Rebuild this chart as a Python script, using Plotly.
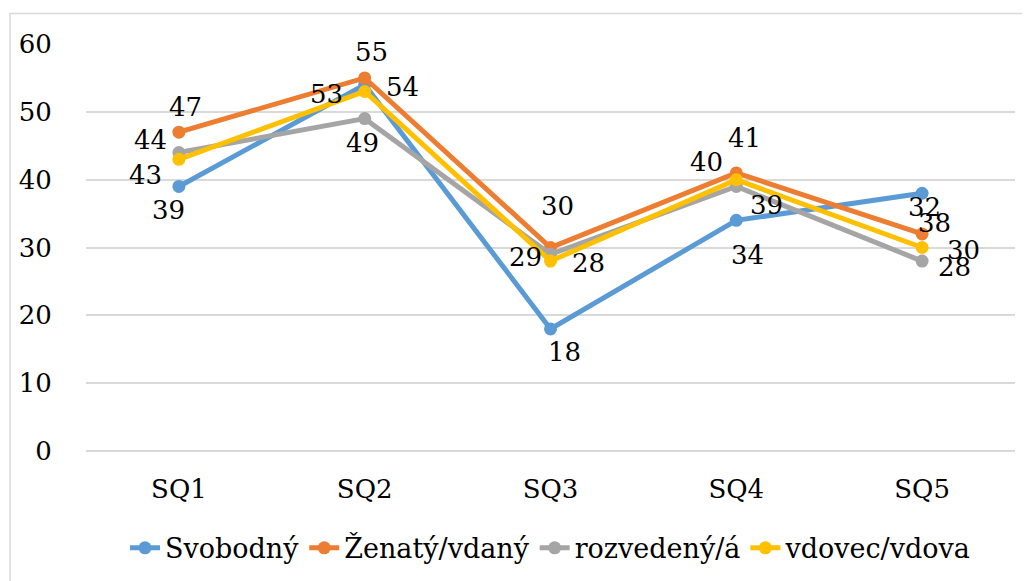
import plotly.graph_objects as go

categories = ["SQ1", "SQ2", "SQ3", "SQ4", "SQ5"]
series_names = ["Svobodný", "Ženatý/vdaný", "rozvedený/á", "vdovec/vdova"]
svobodny = [39, 54, 18, 34, 38]
zenaty = [47, 55, 30, 41, 32]
rozvedeny = [44, 49, 29, 39, 28]
vdovec = [43, 53, 28, 40, 30]
y_ticks = [0, 10, 20, 30, 40, 50, 60]

colors = ["#5B9BD5", "#ED7D31", "#A5A5A5", "#FFC000"]
series_values = [svobodny, zenaty, rozvedeny, vdovec]

# label offsets in pixels (dx, dy downward) per series per category
label_offsets = [
    [(-10, 24), (38, 2), (14, 23), (11, 35), (12, 30)],
    [(7, -25), (7, -26), (7, -42), (8, -35), (2, -27)],
    [(-28, -13), (-2, 24), (-25, 3), (30, 19), (32, 6)],
    [(-33, 16), (-38, 3), (38, 2), (-30, -18), (41, 2)],
]

FONT = "DejaVu Serif"
FS = 26
LEG_FS = 27

fig = go.Figure()
for name, vals, col in zip(series_names, series_values, colors):
    fig.add_trace(go.Scatter(
        x=categories, y=vals, name=name, mode="lines+markers",
        line=dict(color=col, width=5),
        marker=dict(color=col, size=13),
    ))

annotations = []
for vals, offs in zip(series_values, label_offsets):
    for c, v, (dx, dy) in zip(categories, vals, offs):
        annotations.append(dict(
            x=c, y=v, text=str(v), showarrow=False,
            xshift=dx, yshift=-dy, xanchor="center", yanchor="middle",
            font=dict(family=FONT, size=FS, color="black"),
        ))

fig.update_layout(
    width=1030, height=581,
    margin=dict(l=78, r=23, t=35.5, b=137.5, autoexpand=False),
    paper_bgcolor="white", plot_bgcolor="white",
    font=dict(family=FONT, size=FS, color="black"),
    showlegend=True,
    legend=dict(orientation="h", x=0.5, xanchor="center", y=-0.239, yanchor="middle",
                font=dict(family=FONT, size=LEG_FS, color="black"), itemwidth=30,
                tracegroupgap=0),
    annotations=annotations,
    shapes=[dict(type="rect", xref="paper", yref="paper",
                 x0=-0.0818, x1=1.05, y0=-0.5, y1=1.0748,
                 line=dict(color="#D9D9D9", width=1.5), fillcolor="rgba(0,0,0,0)")],
)
fig.update_xaxes(
    type="category", range=[-0.5, 4.5], showgrid=False, showline=False,
    zeroline=False, ticks="outside", ticklen=0, ticklabelstandoff=15, automargin=False,
    tickfont=dict(family=FONT, size=FS, color="black"),
)
fig.update_yaxes(
    range=[0, 60], tickvals=y_ticks, showgrid=True, gridcolor="#D9D9D9", gridwidth=1.5,
    zeroline=True, zerolinecolor="#D9D9D9", zerolinewidth=1.5,
    showline=False, ticks="outside", ticklen=0, ticklabelstandoff=28, automargin=False,
    tickfont=dict(family=FONT, size=FS, color="black"),
)

fig.write_html("out.html")
